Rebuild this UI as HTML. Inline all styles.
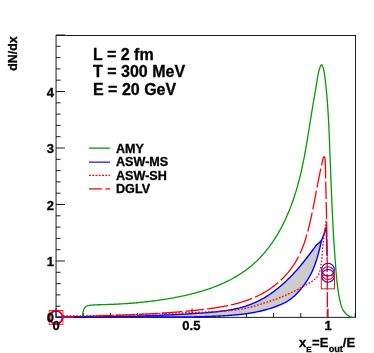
<!DOCTYPE html>
<html><head><meta charset="utf-8"><style>
html,body{margin:0;padding:0;background:#fff;}
svg{display:block}
svg{will-change:transform}
text{font-family:"Liberation Sans",sans-serif;font-weight:bold;fill:#000;stroke:#000;stroke-width:0.3px}
</style></head><body>
<svg width="374" height="353" viewBox="0 0 374 353">
<rect width="374" height="353" fill="#fff"/>
<g stroke="#111" stroke-width="0.95" fill="none">
<rect x="56.05" y="35.5" width="299.45" height="281.85"/>
<line x1="56.00" y1="317.50" x2="65.00" y2="317.50"/><line x1="56.00" y1="306.20" x2="60.50" y2="306.20"/><line x1="56.00" y1="294.90" x2="60.50" y2="294.90"/><line x1="56.00" y1="283.60" x2="60.50" y2="283.60"/><line x1="56.00" y1="272.30" x2="60.50" y2="272.30"/><line x1="56.00" y1="261.00" x2="65.00" y2="261.00"/><line x1="56.00" y1="249.70" x2="60.50" y2="249.70"/><line x1="56.00" y1="238.40" x2="60.50" y2="238.40"/><line x1="56.00" y1="227.10" x2="60.50" y2="227.10"/><line x1="56.00" y1="215.80" x2="60.50" y2="215.80"/><line x1="56.00" y1="204.50" x2="65.00" y2="204.50"/><line x1="56.00" y1="193.20" x2="60.50" y2="193.20"/><line x1="56.00" y1="181.90" x2="60.50" y2="181.90"/><line x1="56.00" y1="170.60" x2="60.50" y2="170.60"/><line x1="56.00" y1="159.30" x2="60.50" y2="159.30"/><line x1="56.00" y1="148.00" x2="65.00" y2="148.00"/><line x1="56.00" y1="136.70" x2="60.50" y2="136.70"/><line x1="56.00" y1="125.40" x2="60.50" y2="125.40"/><line x1="56.00" y1="114.10" x2="60.50" y2="114.10"/><line x1="56.00" y1="102.80" x2="60.50" y2="102.80"/><line x1="56.00" y1="91.50" x2="65.00" y2="91.50"/><line x1="56.00" y1="80.20" x2="60.50" y2="80.20"/><line x1="56.00" y1="68.90" x2="60.50" y2="68.90"/><line x1="56.00" y1="57.60" x2="60.50" y2="57.60"/><line x1="56.00" y1="46.30" x2="60.50" y2="46.30"/><line x1="56.00" y1="35.00" x2="65.00" y2="35.00"/><line x1="56.00" y1="317.50" x2="56.00" y2="308.50"/><line x1="83.20" y1="317.50" x2="83.20" y2="313.00"/><line x1="110.40" y1="317.50" x2="110.40" y2="313.00"/><line x1="137.60" y1="317.50" x2="137.60" y2="313.00"/><line x1="164.80" y1="317.50" x2="164.80" y2="313.00"/><line x1="192.00" y1="317.50" x2="192.00" y2="308.50"/><line x1="219.20" y1="317.50" x2="219.20" y2="313.00"/><line x1="246.40" y1="317.50" x2="246.40" y2="313.00"/><line x1="273.60" y1="317.50" x2="273.60" y2="313.00"/><line x1="300.80" y1="317.50" x2="300.80" y2="313.00"/><line x1="328.00" y1="317.50" x2="328.00" y2="308.50"/><line x1="355.20" y1="317.50" x2="355.20" y2="313.00"/>
</g>
<path d="M55.92,317.16 L56.89,317.16 L57.87,317.15 L58.84,317.15 L59.81,317.14 L60.77,317.14 L61.74,317.14 L62.71,317.13 L63.68,317.13 L64.65,317.12 L65.61,317.12 L66.58,317.11 L67.55,317.11 L68.51,317.10 L69.48,317.09 L70.44,317.09 L71.41,317.08 L72.37,317.08 L73.33,317.07 L74.29,317.06 L75.26,317.06 L76.22,317.05 L77.18,317.05 L78.14,317.04 L79.10,317.03 L80.06,317.02 L81.02,317.02 L81.98,317.01 L82.94,317.00 L83.90,316.99 L84.86,316.98 L85.82,316.98 L86.78,316.97 L87.73,316.96 L88.69,316.95 L89.65,316.94 L90.60,316.93 L91.56,316.92 L92.52,316.91 L93.47,316.90 L94.43,316.89 L95.38,316.88 L96.34,316.87 L97.29,316.86 L98.25,316.85 L99.20,316.84 L100.16,316.82 L101.11,316.81 L102.06,316.80 L103.02,316.79 L103.97,316.77 L104.92,316.76 L105.87,316.75 L106.83,316.73 L107.78,316.72 L108.73,316.70 L109.68,316.69 L110.63,316.67 L111.59,316.66 L112.54,316.64 L113.49,316.62 L114.44,316.61 L115.39,316.59 L116.34,316.57 L117.29,316.55 L118.24,316.54 L119.20,316.52 L120.15,316.50 L121.10,316.48 L122.05,316.46 L123.00,316.44 L123.95,316.42 L124.90,316.40 L125.85,316.38 L126.80,316.36 L127.75,316.34 L128.70,316.31 L129.65,316.29 L130.60,316.27 L131.55,316.24 L132.50,316.22 L133.45,316.19 L134.40,316.17 L135.35,316.14 L136.30,316.12 L137.25,316.09 L138.20,316.07 L139.15,316.04 L140.10,316.01 L141.05,315.98 L142.00,315.95 L142.95,315.92 L143.90,315.90 L144.85,315.86 L145.80,315.83 L146.75,315.80 L147.70,315.77 L148.65,315.74 L149.61,315.71 L150.56,315.67 L151.51,315.64 L152.46,315.61 L153.41,315.57 L154.36,315.54 L155.32,315.50 L156.27,315.46 L157.22,315.43 L158.17,315.39 L159.12,315.35 L160.08,315.31 L161.03,315.27 L161.98,315.23 L162.94,315.19 L163.89,315.15 L164.85,315.11 L165.80,315.07 L166.75,315.03 L167.71,314.98 L168.66,314.94 L169.62,314.90 L170.57,314.85 L171.53,314.80 L172.49,314.76 L173.44,314.71 L174.40,314.66 L175.36,314.62 L176.31,314.57 L177.27,314.52 L178.23,314.47 L179.19,314.42 L180.15,314.36 L181.11,314.31 L182.07,314.26 L183.03,314.21 L183.99,314.15 L184.95,314.10 L185.91,314.04 L186.87,313.98 L187.83,313.93 L188.79,313.87 L189.75,313.81 L190.72,313.75 L191.68,313.69 L192.64,313.63 L193.61,313.57 L194.57,313.51 L195.54,313.45 L196.50,313.38 L197.47,313.32 L198.44,313.25 L199.40,313.19 L200.37,313.12 L201.34,313.05 L202.31,312.99 L203.27,312.92 L204.24,312.85 L205.21,312.77 L206.18,312.70 L207.15,312.62 L208.12,312.55 L209.09,312.47 L210.06,312.39 L211.02,312.30 L211.99,312.21 L212.96,312.12 L213.93,312.03 L214.89,311.94 L215.86,311.84 L216.82,311.74 L217.78,311.63 L218.75,311.52 L219.71,311.41 L220.67,311.29 L221.63,311.17 L222.58,311.04 L223.54,310.92 L224.50,310.78 L225.45,310.64 L226.40,310.50 L227.35,310.35 L228.30,310.19 L229.24,310.03 L230.19,309.87 L231.13,309.70 L232.07,309.52 L233.01,309.34 L233.95,309.15 L234.88,308.95 L235.81,308.75 L236.74,308.54 L237.66,308.33 L238.59,308.10 L239.51,307.87 L240.43,307.64 L241.34,307.39 L242.25,307.14 L243.16,306.88 L244.07,306.61 L244.97,306.34 L245.87,306.05 L246.76,305.76 L247.65,305.46 L248.54,305.15 L249.43,304.83 L250.31,304.51 L251.19,304.17 L252.06,303.82 L252.93,303.47 L253.80,303.10 L254.66,302.73 L255.51,302.34 L256.37,301.95 L257.22,301.55 L258.06,301.14 L258.91,300.72 L259.74,300.29 L260.58,299.85 L261.41,299.41 L262.23,298.95 L263.05,298.49 L263.87,298.02 L264.69,297.54 L265.50,297.05 L266.30,296.56 L267.10,296.05 L267.90,295.54 L268.70,295.02 L269.49,294.50 L270.27,293.97 L271.06,293.43 L271.83,292.88 L272.61,292.33 L273.38,291.77 L274.15,291.20 L274.91,290.62 L275.67,290.04 L276.42,289.46 L277.18,288.86 L277.92,288.26 L278.67,287.66 L279.41,287.05 L280.14,286.43 L280.87,285.81 L281.60,285.18 L282.33,284.55 L283.05,283.91 L283.76,283.26 L284.48,282.61 L285.19,281.96 L285.89,281.30 L286.59,280.63 L287.29,279.96 L287.98,279.29 L288.67,278.61 L289.36,277.93 L290.04,277.24 L290.72,276.55 L291.40,275.86 L292.07,275.16 L292.73,274.46 L293.40,273.75 L294.06,273.04 L294.71,272.33 L295.37,271.61 L296.01,270.89 L296.66,270.17 L297.30,269.44 L297.94,268.72 L298.57,267.98 L299.20,267.25 L299.83,266.51 L300.45,265.77 L301.07,265.03 L301.68,264.29 L302.29,263.55 L302.90,262.80 L303.51,262.05 L304.11,261.30 L304.71,260.55 L305.30,259.79 L305.90,259.04 L306.49,258.29 L307.07,257.53 L307.66,256.77 L308.24,256.02 L308.82,255.26 L309.39,254.50 L309.97,253.74 L310.54,252.99 L311.11,252.23 L311.68,251.47 L312.24,250.71 L312.81,249.96 L313.37,249.20 L313.93,248.45 L314.49,247.69 L315.05,246.94 L315.60,246.19 L316.16,245.44 L316.71,244.69 L319.30,242.80 L321.60,240.30 L321.62,240.31 L321.38,241.30 L321.15,242.29 L320.92,243.28 L320.68,244.27 L320.45,245.26 L320.21,246.25 L319.97,247.25 L319.73,248.24 L319.48,249.23 L319.23,250.23 L318.98,251.22 L318.73,252.21 L318.47,253.20 L318.20,254.19 L317.93,255.18 L317.65,256.17 L317.37,257.15 L317.08,258.14 L316.79,259.12 L316.48,260.09 L316.17,261.07 L315.85,262.04 L315.52,263.01 L315.19,263.97 L314.84,264.93 L314.48,265.89 L314.12,266.84 L313.74,267.79 L313.35,268.73 L312.95,269.67 L312.54,270.60 L312.12,271.52 L311.68,272.44 L311.23,273.36 L310.76,274.27 L310.29,275.17 L309.80,276.06 L309.29,276.95 L308.78,277.83 L308.25,278.71 L307.71,279.58 L307.16,280.44 L306.60,281.30 L306.02,282.15 L305.44,282.99 L304.85,283.82 L304.25,284.65 L303.64,285.48 L303.02,286.29 L302.39,287.10 L301.75,287.90 L301.11,288.70 L300.46,289.49 L299.80,290.27 L299.14,291.04 L298.47,291.81 L297.79,292.57 L297.10,293.31 L296.40,294.04 L295.69,294.76 L294.96,295.47 L294.22,296.16 L293.47,296.83 L292.70,297.49 L291.91,298.13 L291.11,298.74 L290.29,299.34 L289.46,299.92 L288.60,300.47 L287.73,301.01 L286.85,301.53 L285.95,302.03 L285.04,302.52 L284.13,302.98 L283.20,303.44 L282.26,303.88 L281.32,304.30 L280.37,304.72 L279.41,305.12 L278.46,305.51 L277.50,305.89 L276.54,306.26 L275.57,306.63 L274.61,306.98 L273.64,307.32 L272.67,307.66 L271.70,307.98 L270.72,308.30 L269.75,308.60 L268.77,308.90 L267.79,309.19 L266.81,309.48 L265.83,309.75 L264.84,310.02 L263.86,310.27 L262.87,310.52 L261.88,310.77 L260.89,311.00 L259.90,311.23 L258.91,311.45 L257.91,311.66 L256.92,311.87 L255.92,312.07 L254.92,312.27 L253.92,312.45 L252.92,312.63 L251.92,312.81 L250.92,312.98 L249.91,313.14 L248.91,313.30 L247.90,313.45 L246.89,313.59 L245.88,313.73 L244.87,313.87 L243.86,314.00 L242.85,314.13 L241.84,314.25 L240.83,314.36 L239.81,314.47 L238.80,314.58 L237.79,314.68 L236.77,314.78 L235.75,314.88 L234.74,314.97 L233.72,315.06 L232.70,315.14 L231.68,315.22 L230.66,315.30 L229.65,315.38 L228.63,315.45 L227.61,315.52 L226.59,315.58 L225.57,315.65 L224.55,315.71 L223.52,315.77 L222.50,315.83 L221.48,315.88 L220.46,315.94 L219.44,315.99 L218.42,316.04 L217.40,316.09 L216.38,316.14 L215.36,316.18 L214.34,316.23 L213.31,316.27 L212.29,316.31 L211.27,316.35 L210.25,316.39 L209.23,316.43 L208.21,316.47 L207.19,316.50 L206.17,316.53 L205.14,316.57 L204.12,316.60 L203.10,316.63 L202.08,316.65 L201.06,316.68 L200.04,316.71 L199.02,316.73 L198.00,316.76 L196.97,316.78 L195.95,316.80 L194.93,316.82 L193.91,316.84 L192.89,316.86 L191.87,316.88 L190.85,316.89 L189.82,316.91 L188.80,316.92 L187.78,316.93 L186.76,316.95 L185.74,316.96 L184.72,316.97 L183.70,316.98 L182.67,316.98 L181.65,316.99 L180.63,317.00 L179.61,317.00 L178.59,317.01 L177.57,317.01 L176.55,317.02 L175.52,317.02 L174.50,317.02 L173.48,317.02 L172.46,317.03 L171.44,317.03 L170.42,317.02 L169.39,317.02 L168.37,317.02 L167.35,317.02 L166.33,317.02 L165.31,317.01 L164.29,317.01 L163.26,317.00 L162.24,317.00 L161.22,316.99 L160.20,316.99 L159.18,316.98 L158.16,316.97 L157.13,316.97 L156.11,316.96 L155.09,316.95 L154.07,316.94 L153.05,316.93 L152.03,316.92 L151.00,316.91 L149.98,316.90 L148.96,316.90 L147.94,316.88 L146.92,316.87 L145.90,316.86 L144.87,316.85 L143.85,316.84 L142.83,316.83 L141.81,316.82 L140.79,316.81 L139.77,316.80 L138.74,316.79 L137.72,316.78 L136.70,316.76 L135.68,316.75 L134.66,316.74 L133.64,316.73 L132.61,316.72 L131.59,316.71 L130.57,316.70 L129.55,316.69 L128.53,316.67 L127.51,316.66 L126.48,316.65 L125.46,316.64 L124.44,316.63 L123.42,316.62 L122.40,316.61 L121.38,316.60 L120.35,316.60 L119.33,316.59 L118.31,316.58 L117.29,316.57 L116.27,316.56 L115.25,316.55 L114.22,316.55 L113.20,316.54 L112.18,316.54 L111.16,316.53 L110.14,316.52 L109.12,316.52 L108.09,316.52 L107.07,316.51 L106.05,316.51 L105.03,316.51 L104.01,316.50 L102.99,316.50 L101.96,316.50 L100.94,316.50 L99.92,316.50 L98.90,316.50 L97.88,316.51 L96.86,316.51 L95.83,316.51 L94.81,316.52 L93.79,316.52 L92.77,316.53 L91.75,316.53 L90.73,316.54 L89.71,316.55 L88.68,316.56 L87.66,316.57 L86.64,316.58 L85.62,316.59 L84.60,316.61 L83.58,316.62 L82.55,316.64 L81.53,316.65 L80.51,316.67 L79.49,316.69 L78.47,316.71 L77.45,316.73 L76.43,316.75 L75.40,316.77 L74.38,316.79 L73.36,316.82 L72.34,316.84 L71.32,316.87 L70.30,316.90 L69.28,316.93 L68.26,316.96 L67.23,316.99 L66.21,317.03 L65.19,317.06 L64.17,317.10 L63.15,317.13 L62.13,317.17 L61.11,317.21 L60.09,317.25 L59.06,317.30 L58.04,317.34 L57.02,317.39 L56.00,317.44Z" fill="#cccccc" stroke="none"/>
<path d="M82.50,317.50 L82.51,317.31 L82.53,317.06 L82.54,316.77 L82.56,316.44 L82.58,316.09 L82.60,315.72 L82.62,315.33 L82.65,314.94 L82.68,314.56 L82.72,314.18 L82.76,313.83 L82.80,313.50 L82.85,313.19 L82.90,312.88 L82.95,312.57 L83.01,312.26 L83.07,311.96 L83.13,311.66 L83.20,311.36 L83.27,311.07 L83.35,310.79 L83.43,310.52 L83.51,310.26 L83.60,310.00 L83.69,309.75 L83.79,309.51 L83.89,309.28 L84.00,309.06 L84.11,308.84 L84.22,308.62 L84.34,308.42 L84.47,308.22 L84.59,308.03 L84.72,307.85 L84.86,307.67 L85.00,307.50 L85.14,307.34 L85.29,307.18 L85.43,307.04 L85.59,306.90 L85.74,306.76 L85.90,306.64 L86.07,306.52 L86.24,306.40 L86.42,306.30 L86.60,306.19 L86.80,306.09 L87.00,306.00 L87.21,305.91 L87.42,305.83 L87.63,305.76 L87.85,305.70 L88.08,305.64 L88.31,305.58 L88.56,305.53 L88.81,305.48 L89.09,305.44 L89.37,305.39 L89.68,305.35 L90.00,305.30 L90.36,305.25 L90.78,305.21 L91.23,305.17 L91.70,305.13 L92.19,305.09 L92.69,305.06 L93.17,305.02 L93.63,304.99 L94.05,304.96 L94.43,304.94 L94.75,304.92 L95.00,304.90 L94.99,304.83 L96.61,304.80 L98.22,304.77 L99.84,304.73 L101.45,304.69 L103.07,304.65 L104.69,304.60 L106.30,304.55 L107.92,304.49 L109.53,304.43 L111.14,304.37 L112.76,304.30 L114.37,304.23 L115.98,304.16 L117.60,304.08 L119.21,303.99 L120.82,303.90 L122.43,303.81 L124.05,303.71 L125.66,303.60 L127.27,303.49 L128.88,303.38 L130.49,303.26 L132.09,303.13 L133.70,303.00 L135.31,302.87 L136.92,302.73 L138.52,302.58 L140.13,302.43 L141.73,302.27 L143.34,302.11 L144.94,301.94 L146.55,301.76 L148.15,301.58 L149.75,301.39 L151.35,301.20 L152.95,301.00 L154.55,300.79 L156.15,300.57 L157.75,300.35 L159.34,300.13 L160.94,299.89 L162.53,299.65 L164.13,299.41 L165.72,299.15 L167.31,298.89 L168.90,298.62 L170.49,298.35 L172.08,298.06 L173.67,297.77 L175.26,297.47 L176.84,297.17 L178.43,296.86 L180.01,296.53 L181.59,296.21 L183.17,295.87 L184.75,295.52 L186.33,295.17 L187.91,294.81 L189.48,294.43 L191.05,294.05 L192.62,293.66 L194.18,293.26 L195.75,292.84 L197.31,292.42 L198.86,291.98 L200.41,291.54 L201.96,291.08 L203.51,290.61 L205.04,290.13 L206.58,289.63 L208.11,289.12 L209.64,288.60 L211.16,288.06 L212.67,287.51 L214.18,286.95 L215.68,286.37 L217.18,285.78 L218.67,285.17 L220.16,284.55 L221.63,283.91 L223.11,283.26 L224.57,282.58 L226.03,281.90 L227.48,281.19 L228.92,280.47 L230.35,279.73 L231.78,278.97 L233.19,278.20 L234.60,277.41 L236.00,276.60 L237.38,275.77 L238.76,274.92 L240.13,274.05 L241.48,273.17 L242.82,272.27 L244.15,271.35 L245.47,270.41 L246.77,269.45 L248.06,268.48 L249.33,267.48 L250.59,266.47 L251.84,265.44 L253.06,264.39 L254.28,263.32 L255.47,262.23 L256.65,261.12 L257.81,259.99 L258.95,258.85 L260.07,257.68 L261.18,256.50 L262.26,255.31 L263.34,254.10 L264.39,252.87 L265.43,251.63 L266.45,250.37 L267.46,249.10 L268.44,247.82 L269.42,246.53 L270.37,245.23 L271.31,243.91 L272.24,242.59 L273.14,241.25 L274.04,239.91 L274.91,238.56 L275.78,237.20 L276.62,235.83 L277.46,234.45 L278.27,233.06 L279.08,231.66 L279.87,230.26 L280.64,228.85 L281.40,227.43 L282.15,226.00 L282.88,224.57 L283.60,223.13 L284.31,221.68 L285.00,220.23 L285.68,218.77 L286.35,217.30 L287.01,215.82 L287.65,214.34 L288.28,212.86 L288.90,211.37 L289.51,209.87 L290.10,208.37 L290.68,206.86 L291.25,205.35 L291.81,203.84 L292.36,202.32 L292.90,200.79 L293.43,199.26 L293.95,197.73 L294.45,196.19 L294.95,194.65 L295.43,193.11 L295.91,191.57 L296.37,190.02 L296.83,188.46 L297.28,186.91 L297.72,185.35 L298.14,183.79 L298.56,182.23 L298.98,180.67 L299.38,179.11 L299.77,177.54 L300.16,175.97 L300.53,174.40 L300.91,172.83 L301.27,171.26 L301.62,169.69 L301.97,168.12 L302.31,166.54 L302.65,164.97 L302.98,163.39 L303.30,161.81 L303.62,160.23 L303.93,158.65 L304.24,157.07 L304.54,155.48 L304.84,153.90 L305.13,152.31 L305.42,150.73 L305.70,149.14 L305.98,147.55 L306.26,145.97 L306.53,144.38 L306.80,142.79 L307.07,141.20 L307.34,139.61 L307.60,138.01 L307.86,136.42 L308.12,134.83 L308.38,133.24 L308.63,131.64 L308.89,130.05 L309.14,128.45 L309.40,126.86 L309.65,125.26 L309.90,123.66 L310.15,122.07 L310.41,120.47 L310.66,118.88 L310.92,117.28 L311.17,115.68 L311.43,114.08 L311.69,112.49 L311.95,110.89 L312.21,109.29 L312.48,107.69 L312.74,106.10 L313.01,104.50 L313.29,102.90 L313.56,101.31 L313.84,99.71 L314.12,98.12 L314.39,96.52 L314.67,94.93 L314.95,93.34 L315.22,91.75 L315.49,90.16 L315.77,88.58 L316.03,87.00 L316.29,85.42 L316.55,83.85 L316.81,82.27 L317.05,80.71 L317.29,79.14 L317.54,77.57 L317.80,75.99 L318.10,74.38 L318.45,72.74 L318.87,71.04 L319.36,69.28 L319.95,67.49 L320.60,65.94 L321.26,64.95 L321.90,64.85 L322.49,65.68 L323.01,67.16 L323.47,68.93 L323.87,70.72 L324.21,72.44 L324.50,74.12 L324.75,75.77 L324.97,77.38 L325.17,78.98 L325.36,80.57 L325.54,82.16 L325.71,83.76 L325.88,85.35 L326.04,86.95 L326.20,88.54 L326.36,90.14 L326.51,91.74 L326.65,93.34 L326.80,94.94 L326.93,96.54 L327.06,98.15 L327.19,99.75 L327.32,101.35 L327.44,102.96 L327.55,104.56 L327.67,106.17 L327.78,107.78 L327.88,109.38 L327.99,110.99 L328.09,112.60 L328.18,114.21 L328.28,115.82 L328.37,117.43 L328.46,119.04 L328.54,120.65 L328.63,122.27 L328.71,123.88 L328.79,125.49 L328.86,127.10 L328.94,128.72 L329.01,130.33 L329.09,131.95 L329.16,133.56 L329.22,135.17 L329.29,136.79 L329.36,138.40 L329.42,140.02 L329.49,141.63 L329.55,143.25 L329.61,144.86 L329.68,146.48 L329.74,148.10 L329.80,149.71 L329.86,151.33 L329.92,152.94 L329.98,154.56 L330.05,156.17 L330.11,157.79 L330.17,159.40 L330.23,161.02 L330.29,162.63 L330.35,164.25 L330.41,165.86 L330.47,167.48 L330.53,169.09 L330.59,170.71 L330.66,172.32 L330.72,173.93 L330.78,175.55 L330.84,177.16 L330.91,178.78 L330.97,180.39 L331.03,182.01 L331.10,183.62 L331.16,185.23 L331.22,186.85 L331.29,188.46 L331.36,190.07 L331.42,191.69 L331.49,193.30 L331.56,194.91 L331.62,196.53 L331.69,198.14 L331.76,199.75 L331.83,201.37 L331.90,202.98 L331.98,204.59 L332.05,206.20 L332.12,207.82 L332.20,209.43 L332.27,211.04 L332.35,212.65 L332.43,214.26 L332.51,215.88 L332.58,217.49 L332.67,219.10 L332.75,220.71 L332.83,222.32 L332.91,223.93 L333.00,225.54 L333.08,227.15 L333.17,228.77 L333.26,230.38 L333.35,231.99 L333.44,233.60 L333.54,235.21 L333.63,236.82 L333.73,238.43 L333.82,240.03 L333.92,241.64 L334.02,243.25 L334.12,244.86 L334.23,246.47 L334.33,248.08 L334.44,249.69 L334.55,251.30 L334.66,252.90 L334.77,254.51 L334.88,256.12 L335.00,257.73 L335.11,259.34 L335.23,260.94 L335.35,262.55 L335.48,264.16 L335.60,265.76 L335.73,267.37 L335.86,268.97 L335.99,270.58 L336.12,272.19 L336.26,273.79 L336.40,275.40 L336.54,277.00 L336.70,278.61 L336.86,280.21 L337.02,281.82 L337.20,283.42 L337.39,285.02 L337.59,286.63 L337.80,288.23 L338.02,289.84 L338.26,291.44 L338.51,293.04 L338.78,294.64 L339.06,296.25 L339.36,297.85 L339.68,299.45 L340.03,301.05 L340.40,302.64 L340.81,304.22 L341.28,305.77 L341.82,307.29 L342.45,308.75 L343.18,310.16 L344.01,311.50 L344.98,312.77 L346.08,313.94 L347.33,315.01 L348.69,315.92 L350.16,316.65 L351.72,317.14 L353.34,317.37 L355.01,317.29" fill="none" stroke="#069a06" stroke-width="1.3"/>
<path d="M55.92,317.16 L56.89,317.16 L57.87,317.15 L58.84,317.15 L59.81,317.14 L60.77,317.14 L61.74,317.14 L62.71,317.13 L63.68,317.13 L64.65,317.12 L65.61,317.12 L66.58,317.11 L67.55,317.11 L68.51,317.10 L69.48,317.09 L70.44,317.09 L71.41,317.08 L72.37,317.08 L73.33,317.07 L74.29,317.06 L75.26,317.06 L76.22,317.05 L77.18,317.05 L78.14,317.04 L79.10,317.03 L80.06,317.02 L81.02,317.02 L81.98,317.01 L82.94,317.00 L83.90,316.99 L84.86,316.98 L85.82,316.98 L86.78,316.97 L87.73,316.96 L88.69,316.95 L89.65,316.94 L90.60,316.93 L91.56,316.92 L92.52,316.91 L93.47,316.90 L94.43,316.89 L95.38,316.88 L96.34,316.87 L97.29,316.86 L98.25,316.85 L99.20,316.84 L100.16,316.82 L101.11,316.81 L102.06,316.80 L103.02,316.79 L103.97,316.77 L104.92,316.76 L105.87,316.75 L106.83,316.73 L107.78,316.72 L108.73,316.70 L109.68,316.69 L110.63,316.67 L111.59,316.66 L112.54,316.64 L113.49,316.62 L114.44,316.61 L115.39,316.59 L116.34,316.57 L117.29,316.55 L118.24,316.54 L119.20,316.52 L120.15,316.50 L121.10,316.48 L122.05,316.46 L123.00,316.44 L123.95,316.42 L124.90,316.40 L125.85,316.38 L126.80,316.36 L127.75,316.34 L128.70,316.31 L129.65,316.29 L130.60,316.27 L131.55,316.24 L132.50,316.22 L133.45,316.19 L134.40,316.17 L135.35,316.14 L136.30,316.12 L137.25,316.09 L138.20,316.07 L139.15,316.04 L140.10,316.01 L141.05,315.98 L142.00,315.95 L142.95,315.92 L143.90,315.90 L144.85,315.86 L145.80,315.83 L146.75,315.80 L147.70,315.77 L148.65,315.74 L149.61,315.71 L150.56,315.67 L151.51,315.64 L152.46,315.61 L153.41,315.57 L154.36,315.54 L155.32,315.50 L156.27,315.46 L157.22,315.43 L158.17,315.39 L159.12,315.35 L160.08,315.31 L161.03,315.27 L161.98,315.23 L162.94,315.19 L163.89,315.15 L164.85,315.11 L165.80,315.07 L166.75,315.03 L167.71,314.98 L168.66,314.94 L169.62,314.90 L170.57,314.85 L171.53,314.80 L172.49,314.76 L173.44,314.71 L174.40,314.66 L175.36,314.62 L176.31,314.57 L177.27,314.52 L178.23,314.47 L179.19,314.42 L180.15,314.36 L181.11,314.31 L182.07,314.26 L183.03,314.21 L183.99,314.15 L184.95,314.10 L185.91,314.04 L186.87,313.98 L187.83,313.93 L188.79,313.87 L189.75,313.81 L190.72,313.75 L191.68,313.69 L192.64,313.63 L193.61,313.57 L194.57,313.51 L195.54,313.45 L196.50,313.38 L197.47,313.32 L198.44,313.25 L199.40,313.19 L200.37,313.12 L201.34,313.05 L202.31,312.99 L203.27,312.92 L204.24,312.85 L205.21,312.77 L206.18,312.70 L207.15,312.62 L208.12,312.55 L209.09,312.47 L210.06,312.39 L211.02,312.30 L211.99,312.21 L212.96,312.12 L213.93,312.03 L214.89,311.94 L215.86,311.84 L216.82,311.74 L217.78,311.63 L218.75,311.52 L219.71,311.41 L220.67,311.29 L221.63,311.17 L222.58,311.04 L223.54,310.92 L224.50,310.78 L225.45,310.64 L226.40,310.50 L227.35,310.35 L228.30,310.19 L229.24,310.03 L230.19,309.87 L231.13,309.70 L232.07,309.52 L233.01,309.34 L233.95,309.15 L234.88,308.95 L235.81,308.75 L236.74,308.54 L237.66,308.33 L238.59,308.10 L239.51,307.87 L240.43,307.64 L241.34,307.39 L242.25,307.14 L243.16,306.88 L244.07,306.61 L244.97,306.34 L245.87,306.05 L246.76,305.76 L247.65,305.46 L248.54,305.15 L249.43,304.83 L250.31,304.51 L251.19,304.17 L252.06,303.82 L252.93,303.47 L253.80,303.10 L254.66,302.73 L255.51,302.34 L256.37,301.95 L257.22,301.55 L258.06,301.14 L258.91,300.72 L259.74,300.29 L260.58,299.85 L261.41,299.41 L262.23,298.95 L263.05,298.49 L263.87,298.02 L264.69,297.54 L265.50,297.05 L266.30,296.56 L267.10,296.05 L267.90,295.54 L268.70,295.02 L269.49,294.50 L270.27,293.97 L271.06,293.43 L271.83,292.88 L272.61,292.33 L273.38,291.77 L274.15,291.20 L274.91,290.62 L275.67,290.04 L276.42,289.46 L277.18,288.86 L277.92,288.26 L278.67,287.66 L279.41,287.05 L280.14,286.43 L280.87,285.81 L281.60,285.18 L282.33,284.55 L283.05,283.91 L283.76,283.26 L284.48,282.61 L285.19,281.96 L285.89,281.30 L286.59,280.63 L287.29,279.96 L287.98,279.29 L288.67,278.61 L289.36,277.93 L290.04,277.24 L290.72,276.55 L291.40,275.86 L292.07,275.16 L292.73,274.46 L293.40,273.75 L294.06,273.04 L294.71,272.33 L295.37,271.61 L296.01,270.89 L296.66,270.17 L297.30,269.44 L297.94,268.72 L298.57,267.98 L299.20,267.25 L299.83,266.51 L300.45,265.77 L301.07,265.03 L301.68,264.29 L302.29,263.55 L302.90,262.80 L303.51,262.05 L304.11,261.30 L304.71,260.55 L305.30,259.79 L305.90,259.04 L306.49,258.29 L307.07,257.53 L307.66,256.77 L308.24,256.02 L308.82,255.26 L309.39,254.50 L309.97,253.74 L310.54,252.99 L311.11,252.23 L311.68,251.47 L312.24,250.71 L312.81,249.96 L313.37,249.20 L313.93,248.45 L314.49,247.69 L315.05,246.94 L315.60,246.19 L316.16,245.44 L316.71,244.69 L319.30,242.80 L321.60,240.30" fill="none" stroke="#0000ff" stroke-width="1.4"/>
<path d="M56.00,317.44 L57.02,317.39 L58.04,317.34 L59.06,317.30 L60.09,317.25 L61.11,317.21 L62.13,317.17 L63.15,317.13 L64.17,317.10 L65.19,317.06 L66.21,317.03 L67.23,316.99 L68.26,316.96 L69.28,316.93 L70.30,316.90 L71.32,316.87 L72.34,316.84 L73.36,316.82 L74.38,316.79 L75.40,316.77 L76.43,316.75 L77.45,316.73 L78.47,316.71 L79.49,316.69 L80.51,316.67 L81.53,316.65 L82.55,316.64 L83.58,316.62 L84.60,316.61 L85.62,316.59 L86.64,316.58 L87.66,316.57 L88.68,316.56 L89.71,316.55 L90.73,316.54 L91.75,316.53 L92.77,316.53 L93.79,316.52 L94.81,316.52 L95.83,316.51 L96.86,316.51 L97.88,316.51 L98.90,316.50 L99.92,316.50 L100.94,316.50 L101.96,316.50 L102.99,316.50 L104.01,316.50 L105.03,316.51 L106.05,316.51 L107.07,316.51 L108.09,316.52 L109.12,316.52 L110.14,316.52 L111.16,316.53 L112.18,316.54 L113.20,316.54 L114.22,316.55 L115.25,316.55 L116.27,316.56 L117.29,316.57 L118.31,316.58 L119.33,316.59 L120.35,316.60 L121.38,316.60 L122.40,316.61 L123.42,316.62 L124.44,316.63 L125.46,316.64 L126.48,316.65 L127.51,316.66 L128.53,316.67 L129.55,316.69 L130.57,316.70 L131.59,316.71 L132.61,316.72 L133.64,316.73 L134.66,316.74 L135.68,316.75 L136.70,316.76 L137.72,316.78 L138.74,316.79 L139.77,316.80 L140.79,316.81 L141.81,316.82 L142.83,316.83 L143.85,316.84 L144.87,316.85 L145.90,316.86 L146.92,316.87 L147.94,316.88 L148.96,316.90 L149.98,316.90 L151.00,316.91 L152.03,316.92 L153.05,316.93 L154.07,316.94 L155.09,316.95 L156.11,316.96 L157.13,316.97 L158.16,316.97 L159.18,316.98 L160.20,316.99 L161.22,316.99 L162.24,317.00 L163.26,317.00 L164.29,317.01 L165.31,317.01 L166.33,317.02 L167.35,317.02 L168.37,317.02 L169.39,317.02 L170.42,317.02 L171.44,317.03 L172.46,317.03 L173.48,317.02 L174.50,317.02 L175.52,317.02 L176.55,317.02 L177.57,317.01 L178.59,317.01 L179.61,317.00 L180.63,317.00 L181.65,316.99 L182.67,316.98 L183.70,316.98 L184.72,316.97 L185.74,316.96 L186.76,316.95 L187.78,316.93 L188.80,316.92 L189.82,316.91 L190.85,316.89 L191.87,316.88 L192.89,316.86 L193.91,316.84 L194.93,316.82 L195.95,316.80 L196.97,316.78 L198.00,316.76 L199.02,316.73 L200.04,316.71 L201.06,316.68 L202.08,316.65 L203.10,316.63 L204.12,316.60 L205.14,316.57 L206.17,316.53 L207.19,316.50 L208.21,316.47 L209.23,316.43 L210.25,316.39 L211.27,316.35 L212.29,316.31 L213.31,316.27 L214.34,316.23 L215.36,316.18 L216.38,316.14 L217.40,316.09 L218.42,316.04 L219.44,315.99 L220.46,315.94 L221.48,315.88 L222.50,315.83 L223.52,315.77 L224.55,315.71 L225.57,315.65 L226.59,315.58 L227.61,315.52 L228.63,315.45 L229.65,315.38 L230.66,315.30 L231.68,315.22 L232.70,315.14 L233.72,315.06 L234.74,314.97 L235.75,314.88 L236.77,314.78 L237.79,314.68 L238.80,314.58 L239.81,314.47 L240.83,314.36 L241.84,314.25 L242.85,314.13 L243.86,314.00 L244.87,313.87 L245.88,313.73 L246.89,313.59 L247.90,313.45 L248.91,313.30 L249.91,313.14 L250.92,312.98 L251.92,312.81 L252.92,312.63 L253.92,312.45 L254.92,312.27 L255.92,312.07 L256.92,311.87 L257.91,311.66 L258.91,311.45 L259.90,311.23 L260.89,311.00 L261.88,310.77 L262.87,310.52 L263.86,310.27 L264.84,310.02 L265.83,309.75 L266.81,309.48 L267.79,309.19 L268.77,308.90 L269.75,308.60 L270.72,308.30 L271.70,307.98 L272.67,307.66 L273.64,307.32 L274.61,306.98 L275.57,306.63 L276.54,306.26 L277.50,305.89 L278.46,305.51 L279.41,305.12 L280.37,304.72 L281.32,304.30 L282.26,303.88 L283.20,303.44 L284.13,302.98 L285.04,302.52 L285.95,302.03 L286.85,301.53 L287.73,301.01 L288.60,300.47 L289.46,299.92 L290.29,299.34 L291.11,298.74 L291.91,298.13 L292.70,297.49 L293.47,296.83 L294.22,296.16 L294.96,295.47 L295.69,294.76 L296.40,294.04 L297.10,293.31 L297.79,292.57 L298.47,291.81 L299.14,291.04 L299.80,290.27 L300.46,289.49 L301.11,288.70 L301.75,287.90 L302.39,287.10 L303.02,286.29 L303.64,285.48 L304.25,284.65 L304.85,283.82 L305.44,282.99 L306.02,282.15 L306.60,281.30 L307.16,280.44 L307.71,279.58 L308.25,278.71 L308.78,277.83 L309.29,276.95 L309.80,276.06 L310.29,275.17 L310.76,274.27 L311.23,273.36 L311.68,272.44 L312.12,271.52 L312.54,270.60 L312.95,269.67 L313.35,268.73 L313.74,267.79 L314.12,266.84 L314.48,265.89 L314.84,264.93 L315.19,263.97 L315.52,263.01 L315.85,262.04 L316.17,261.07 L316.48,260.09 L316.79,259.12 L317.08,258.14 L317.37,257.15 L317.65,256.17 L317.93,255.18 L318.20,254.19 L318.47,253.20 L318.73,252.21 L318.98,251.22 L319.23,250.23 L319.48,249.23 L319.73,248.24 L319.97,247.25 L320.21,246.25 L320.45,245.26 L320.68,244.27 L320.92,243.28 L321.15,242.29 L321.38,241.30 L321.62,240.31" fill="none" stroke="#0000ff" stroke-width="1.4"/>
<path d="M321.6,240.3 L323.8,234.5 L326.2,226.7 L327.1,256" fill="none" stroke="#0000ff" stroke-width="1.4"/>
<path d="M63.00,315.92 L64.07,315.92 L65.15,315.93 L66.22,315.93 L67.29,315.93 L68.36,315.93 L69.43,315.93 L70.50,315.93 L71.58,315.93 L72.65,315.93 L73.72,315.92 L74.79,315.92 L75.86,315.91 L76.94,315.90 L78.01,315.90 L79.08,315.89 L80.15,315.88 L81.22,315.87 L82.30,315.85 L83.37,315.84 L84.44,315.83 L85.51,315.81 L86.59,315.80 L87.66,315.78 L88.73,315.76 L89.80,315.74 L90.87,315.72 L91.95,315.70 L93.02,315.68 L94.09,315.66 L95.16,315.64 L96.24,315.62 L97.31,315.59 L98.38,315.57 L99.45,315.55 L100.53,315.52 L101.60,315.49 L102.67,315.47 L103.74,315.44 L104.81,315.41 L105.89,315.38 L106.96,315.36 L108.03,315.33 L109.10,315.30 L110.18,315.27 L111.25,315.23 L112.32,315.20 L113.39,315.17 L114.47,315.14 L115.54,315.11 L116.61,315.07 L117.68,315.04 L118.75,315.01 L119.83,314.97 L120.90,314.94 L121.97,314.90 L123.04,314.87 L124.12,314.83 L125.19,314.80 L126.26,314.76 L127.33,314.72 L128.40,314.69 L129.48,314.65 L130.55,314.61 L131.62,314.58 L132.69,314.54 L133.76,314.50 L134.84,314.46 L135.91,314.43 L136.98,314.39 L138.05,314.35 L139.12,314.31 L140.20,314.28 L141.27,314.24 L142.34,314.20 L143.41,314.16 L144.48,314.12 L145.55,314.09 L146.63,314.05 L147.70,314.01 L148.77,313.97 L149.84,313.93 L150.91,313.90 L151.98,313.86 L153.05,313.82 L154.13,313.79 L155.20,313.75 L156.27,313.71 L157.34,313.68 L158.41,313.64 L159.48,313.60 L160.55,313.57 L161.62,313.53 L162.69,313.50 L163.77,313.46 L164.84,313.43 L165.91,313.39 L166.98,313.36 L168.05,313.32 L169.12,313.29 L170.19,313.26 L171.26,313.22 L172.33,313.19 L173.40,313.15 L174.47,313.12 L175.54,313.09 L176.62,313.05 L177.69,313.02 L178.76,312.98 L179.83,312.95 L180.90,312.91 L181.97,312.88 L183.04,312.84 L184.11,312.81 L185.18,312.77 L186.25,312.73 L187.32,312.70 L188.40,312.66 L189.47,312.62 L190.54,312.58 L191.61,312.55 L192.68,312.51 L193.75,312.47 L194.82,312.43 L195.89,312.39 L196.97,312.35 L198.04,312.30 L199.11,312.26 L200.18,312.22 L201.25,312.18 L202.33,312.13 L203.40,312.09 L204.47,312.04 L205.54,311.99 L206.62,311.95 L207.69,311.90 L208.76,311.85 L209.83,311.80 L210.91,311.75 L211.98,311.70 L213.05,311.65 L214.13,311.59 L215.20,311.54 L216.27,311.48 L217.35,311.43 L218.42,311.37 L219.50,311.31 L220.57,311.25 L221.64,311.19 L222.72,311.12 L223.79,311.06 L224.87,310.99 L225.94,310.92 L227.01,310.84 L228.09,310.76 L229.16,310.67 L230.23,310.58 L231.30,310.48 L232.37,310.38 L233.43,310.27 L234.50,310.15 L235.56,310.02 L236.62,309.88 L237.68,309.73 L238.74,309.57 L239.80,309.41 L240.85,309.23 L241.90,309.04 L242.95,308.84 L244.00,308.63 L245.04,308.41 L246.09,308.18 L247.13,307.94 L248.17,307.69 L249.21,307.43 L250.24,307.17 L251.28,306.90 L252.31,306.62 L253.35,306.34 L254.38,306.05 L255.41,305.76 L256.44,305.46 L257.46,305.15 L258.49,304.84 L259.52,304.53 L260.54,304.21 L261.57,303.89 L262.59,303.57 L263.62,303.24 L264.64,302.91 L265.66,302.58 L266.69,302.25 L267.71,301.92 L268.73,301.59 L269.75,301.25 L270.77,300.91 L271.79,300.57 L272.81,300.22 L273.82,299.87 L274.84,299.51 L275.85,299.15 L276.86,298.78 L277.86,298.40 L278.86,298.02 L279.86,297.63 L280.86,297.24 L281.85,296.84 L282.84,296.43 L283.83,296.02 L284.81,295.59 L285.79,295.17 L286.77,294.74 L287.75,294.30 L288.72,293.85 L289.69,293.41 L290.66,292.95 L291.63,292.49 L292.59,292.03 L293.55,291.56 L294.51,291.08 L295.47,290.60 L296.43,290.12 L297.38,289.63 L298.33,289.14 L299.28,288.64 L300.23,288.14 L301.18,287.64 L302.13,287.13 L303.07,286.62 L304.02,286.11 L304.96,285.59 L305.90,285.07 L306.84,284.54 L307.77,284.00 L308.70,283.45 L309.62,282.89 L310.53,282.32 L311.42,281.73 L312.31,281.12 L313.18,280.49 L314.03,279.84 L314.87,279.15 L315.66,278.43 L316.40,277.67 L317.08,276.86 L317.69,276.00 L318.25,275.10 L318.74,274.16 L319.17,273.18 L319.55,272.18 L319.87,271.16 L320.15,270.12 L320.38,269.06 L320.58,268.00 L320.76,266.93 L320.93,265.87 L321.08,264.80 L321.23,263.73 L321.36,262.66 L321.49,261.60 L321.61,260.53 L321.72,259.46 L321.83,258.39 L321.93,257.33 L322.03,256.26 L322.12,255.19 L322.21,254.12 L322.30,253.06 L322.38,251.99 L322.47,250.92 L322.55,249.86 L322.64,248.79 L322.73,247.72 L322.82,246.66 L322.91,245.59 L323.01,244.53 L323.12,243.46 L323.23,242.40 L323.34,241.33 L323.46,240.27 L323.59,239.20 L323.73,238.14 L323.86,237.07 L324.01,236.01 L324.15,234.95 L324.30,233.88 L324.45,232.82 L324.60,231.76 L324.75,230.69 L324.91,229.63 L325.06,228.57 L325.21,227.50 L325.35,226.44 L325.50,225.38 L325.64,224.32 L325.78,223.25 L325.92,222.19 L326.04,221.13 L326.17,220.06 L326.28,219.00" fill="none" stroke="#ff0000" stroke-width="1.35" stroke-dasharray="1.7 1.6"/>
<path d="M63,317.4 L74,317.4 M92.93,316.18 L93.76,316.15 L94.59,316.12 L95.42,316.09 L96.25,316.06 L97.08,316.03 L97.91,316.00 L98.73,315.97 L99.56,315.94 L100.39,315.90 L101.21,315.87 L102.04,315.84 L102.87,315.81 L103.69,315.78 L104.52,315.75 L105.34,315.72 L106.17,315.69 L106.99,315.66 L107.81,315.63 L108.64,315.60 L109.46,315.57 L110.29,315.54 L111.11,315.51 L111.93,315.48 L112.40,315.46 M115.60,315.34 L116.86,315.29 L117.68,315.26 L118.50,315.22 L119.32,315.19 L120.14,315.16 L120.96,315.13 L121.78,315.10 L122.60,315.06 L123.42,315.03 L124.24,315.00 L125.06,314.96 L125.88,314.93 L126.70,314.90 L127.51,314.86 L128.33,314.83 L129.15,314.80 L129.97,314.76 L130.78,314.73 L131.60,314.69 L132.42,314.66 L133.24,314.62 L134.05,314.58 L134.87,314.55 L135.40,314.52 M138.60,314.38 L139.77,314.32 L140.58,314.28 L141.40,314.24 L142.22,314.20 L143.03,314.16 L143.85,314.12 L144.66,314.08 L145.48,314.04 L146.29,314.00 L147.11,313.96 L147.92,313.91 L148.74,313.87 L149.55,313.83 L150.37,313.78 L151.18,313.74 L152.00,313.69 L152.81,313.65 L153.63,313.60 L154.44,313.55 L155.26,313.51 L156.07,313.46 L156.89,313.41 L157.70,313.36 L158.40,313.32 M161.60,313.12 L162.59,313.05 L163.40,313.00 L164.22,312.95 L165.03,312.89 L165.85,312.84 L166.66,312.78 L167.48,312.72 L168.29,312.67 L169.11,312.61 L169.92,312.55 L170.74,312.49 L171.55,312.43 L172.37,312.37 L173.18,312.31 L174.00,312.24 L174.81,312.18 L175.63,312.12 L176.45,312.05 L177.26,311.99 L178.08,311.92 L178.89,311.85 L179.71,311.78 L180.53,311.72 L181.34,311.65 L182.16,311.57 L182.41,311.55 M185.59,311.27 L187.06,311.13 L187.88,311.06 L188.70,310.98 L189.51,310.90 L190.33,310.82 L191.15,310.74 L191.97,310.66 L192.79,310.58 L193.61,310.49 L194.43,310.41 L195.25,310.32 L196.07,310.24 L196.89,310.15 L197.71,310.06 L198.53,309.97 L199.35,309.88 L200.17,309.79 L200.99,309.70 L201.81,309.60 L202.63,309.51 L203.45,309.41 L203.91,309.36 M207.09,308.97 L208.38,308.80 L209.20,308.69 L210.02,308.59 L210.84,308.47 L211.66,308.36 L212.48,308.25 L213.30,308.13 L214.12,308.01 L214.94,307.89 L215.76,307.77 L216.57,307.64 L217.39,307.51 L218.21,307.38 L219.02,307.25 L219.84,307.11 L220.65,306.97 L221.47,306.83 L222.28,306.68 L223.09,306.53 L223.90,306.38 L224.71,306.23 L225.52,306.07 L226.33,305.91 L227.14,305.75 L227.94,305.58 M231.06,304.90 L231.96,304.70 L232.75,304.51 L233.55,304.31 L234.35,304.12 L235.14,303.92 L235.93,303.71 L236.73,303.51 L237.52,303.29 L238.30,303.08 L239.09,302.85 L239.88,302.63 L240.66,302.40 L241.44,302.16 L242.22,301.93 L243.00,301.68 L243.77,301.43 L244.55,301.18 L245.32,300.92 L246.09,300.66 L246.86,300.39 L247.62,300.12 L248.39,299.84 L249.15,299.56 L249.91,299.27 L250.67,298.97 L251.42,298.67 L252.12,298.39 M255.07,297.13 L255.90,296.76 L256.64,296.42 L257.37,296.07 L258.10,295.72 L258.83,295.36 L259.56,295.00 L260.29,294.63 L261.01,294.25 L261.73,293.87 L262.44,293.48 L263.15,293.08 L263.86,292.68 L264.57,292.27 L265.28,291.86 L265.98,291.43 L266.67,291.00 L267.37,290.57 L268.06,290.13 L268.75,289.68 L269.43,289.22 L270.11,288.76 L270.79,288.29 L271.46,287.82 L272.13,287.34 L272.79,286.85 L273.45,286.36 L274.11,285.86 L274.76,285.35 L275.41,284.84 L276.05,284.32 L276.69,283.80 L277.32,283.27 L277.95,282.74 L278.30,282.44 M280.68,280.30 L281.62,279.41 L282.21,278.84 L282.80,278.26 L283.38,277.67 L283.96,277.08 L284.53,276.49 L285.09,275.89 L285.65,275.28 L286.20,274.67 L286.75,274.05 L287.29,273.43 L287.83,272.81 L288.35,272.18 L288.87,271.54 L289.39,270.90 L289.90,270.26 L290.40,269.61 L290.89,268.95 L291.38,268.29 L291.86,267.63 L292.33,266.96 L292.80,266.29 L293.26,265.61 L293.71,264.93 L294.15,264.24 L294.59,263.55 L295.02,262.86 L295.45,262.16 L295.87,261.46 L296.28,260.76 L296.68,260.05 L297.08,259.33 L297.47,258.62 L297.85,257.90 L298.23,257.18 L298.60,256.45 L298.61,256.43 M300.00,253.55 L300.36,252.77 L300.70,252.03 L301.03,251.28 L301.35,250.53 L301.67,249.77 L301.98,249.02 L302.28,248.26 L302.59,247.50 L302.88,246.74 L303.17,245.97 L303.46,245.20 L303.74,244.43 L304.02,243.66 L304.29,242.89 L304.56,242.11 L304.82,241.33 L305.08,240.55 L305.33,239.77 L305.58,238.98 L305.83,238.20 L306.07,237.41 L306.31,236.62 L306.54,235.83 L306.77,235.04 L306.92,234.54 M307.77,231.46 L308.09,230.27 L308.30,229.47 L308.50,228.67 L308.71,227.87 L308.91,227.07 L309.10,226.26 L309.30,225.46 L309.49,224.66 L309.68,223.85 L309.87,223.05 L310.06,222.25 L310.24,221.44 L310.42,220.64 L310.60,219.83 L310.78,219.03 L310.96,218.22 L311.14,217.42 L311.31,216.61 L311.48,215.81 L311.66,215.00 L311.83,214.20 L312.00,213.39 L312.16,212.59 L312.17,212.57 M312.81,209.43 L312.99,208.56 L313.15,207.76 L313.31,206.95 L313.47,206.15 L313.63,205.35 L313.78,204.54 L313.94,203.74 L314.10,202.93 L314.25,202.13 L314.41,201.32 L314.56,200.52 L314.72,199.71 L314.87,198.91 L315.03,198.10 L315.18,197.30 L315.33,196.50 L315.48,195.69 L315.64,194.89 L315.79,194.08 L315.94,193.28 L316.09,192.48 L316.24,191.67 L316.40,190.87 L316.45,190.57 M317.05,187.43 L317.31,186.05 L317.46,185.24 L317.62,184.44 L317.77,183.64 L317.93,182.83 L318.08,182.03 L318.24,181.23 L318.40,180.43 L318.55,179.62 L318.71,178.82 L318.87,178.02 L319.03,177.22 L319.19,176.41 L319.35,175.61 L319.52,174.81 L319.68,174.01 L319.84,173.21 L320.01,172.41 L320.18,171.60 L320.34,170.80 L320.51,170.00 L320.68,169.20 L320.82,168.56 M321.51,165.44 L321.74,164.40 L321.92,163.60 L322.10,162.80 L322.29,162.00 L322.47,161.20 L322.66,160.40 L322.85,159.60 L323.05,158.80 L323.24,158.01 L323.44,157.21 L324.30,156.80 L324.90,158.00 L325.30,163.00 L325.67,178.50 M325.74,181.50 L326.15,199.00 M326.22,202.00 L326.60,218.00 L326.61,218.80 M326.65,221.80 L326.87,236.90 M326.90,239.10 L327.12,254.40 M327.15,256.60 L327.20,260.00 L327.24,271.90 M327.25,274.10 L327.30,289.70 M327.31,291.90 L327.36,307.20 M327.37,309.40 L327.40,317.50 " fill="none" stroke="#ff0000" stroke-width="1.3"/>
<g fill="none" stroke="#0000ff" stroke-width="1.3">
<circle cx="56.2" cy="317.6" r="6.6"/>
<circle cx="328" cy="269.6" r="6.4" stroke-width="1.1"/>
<circle cx="328" cy="275.9" r="6.4" stroke-width="1.1"/>
</g>
<g fill="none" stroke="#ff0000" stroke-width="1.3">
<circle cx="55.8" cy="317.1" r="6.6"/>
<circle cx="328" cy="273.2" r="6.4" stroke-width="1.1"/>
<rect x="49.2" y="310.4" width="13.8" height="14" stroke-width="0.8"/>
<rect x="321.3" y="275.7" width="13.2" height="13.1" stroke-width="0.9"/>
</g>
<g font-size="13">
<text x="54" y="96.7" text-anchor="end">4</text>
<text x="54" y="153.2" text-anchor="end">3</text>
<text x="54" y="209.7" text-anchor="end">2</text>
<text x="54" y="266.2" text-anchor="end">1</text>
<text x="54" y="322.0" text-anchor="end">0</text>
<text x="56" y="330.0" text-anchor="middle">0</text>
<text x="191.4" y="330.0" text-anchor="middle">0.5</text>
<text x="328" y="330.0" text-anchor="middle">1</text>
</g>
<text font-size="13.5" transform="translate(17.2,36.4) rotate(-90)" text-anchor="end" textLength="34.4" lengthAdjust="spacingAndGlyphs">dN/dx</text>
<text font-size="13" x="298.9" y="347.4">x<tspan font-size="8" dy="4.6">E</tspan><tspan dy="-4.6" dx="0.6">=E</tspan><tspan font-size="9.1" dy="4.6" dx="0.3">out</tspan><tspan dy="-4.6" dx="0">/E</tspan></text>
<g font-size="16">
<text x="93" y="59.6">L = 2 fm</text>
<text x="93" y="77.4">T = 300 MeV</text>
<text x="93" y="95.1">E = 20 GeV</text>
</g>
<g font-size="12.6">
<text x="116" y="152.6">AMY</text>
<text x="116" y="166.4">ASW-MS</text>
<text x="116" y="179.6">ASW-SH</text>
<text x="116" y="192.8">DGLV</text>
</g>
<g fill="none" stroke-width="1.2">
<line x1="89" y1="148.2" x2="110" y2="148.2" stroke="#33ad33" stroke-width="1.6"/>
<line x1="89" y1="162.2" x2="110" y2="162.2" stroke="#4848ff" stroke-width="1.6"/>
<line x1="89" y1="175.4" x2="110" y2="175.4" stroke="#ff0000" stroke-dasharray="1.9 1.36"/>
<line x1="89" y1="188.9" x2="110" y2="188.9" stroke="#ff4444" stroke-width="1.9" stroke-dasharray="12.8 3.6"/>
</g>
</svg>
</body></html>
